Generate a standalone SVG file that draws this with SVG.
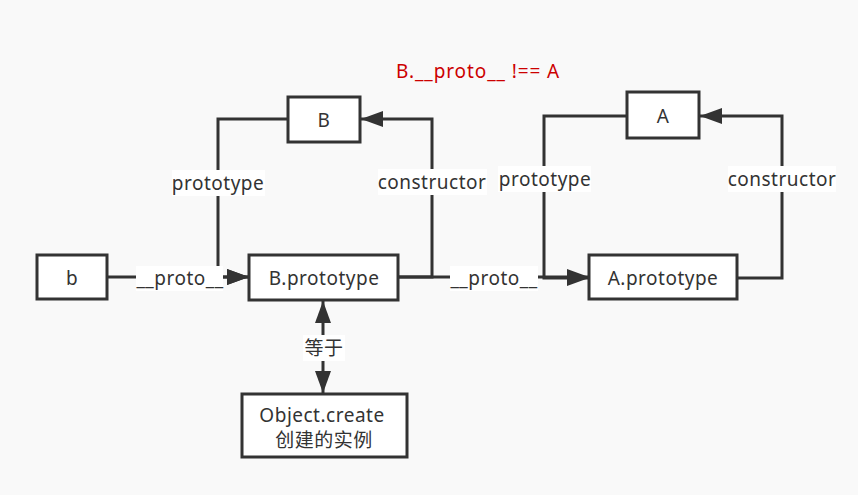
<svg xmlns="http://www.w3.org/2000/svg" width="858" height="495" viewBox="0 0 858 495">
<defs>
<marker id="arr" viewBox="0 0 22 16" refX="22" refY="8" markerWidth="22" markerHeight="16" markerUnits="userSpaceOnUse" orient="auto-start-reverse">
<path d="M0,0 L22,8 L0,16 Z" fill="#333"/>
</marker>
</defs>
<style>
.box{fill:#fff;stroke:#333;stroke-width:3}
.t{font-family:"Noto Sans","Noto Sans CJK SC",sans-serif;font-size:19px;letter-spacing:0.5px;fill:#333;text-anchor:middle;dominant-baseline:central}
.ln{fill:none;stroke:#333;stroke-width:3}
.lb{fill:#fff}
</style>
<rect width="858" height="495" fill="#f9f9f9"/>
<g id="connectors">
<path class="ln" d="M108,277 L249,277" marker-end="url(#arr)"/>
<path class="ln" d="M288,119 L218,119 L218,277 L249,277" marker-end="url(#arr)"/>
<path class="ln" d="M398,277 L432,277 L432,119 L361,119" marker-end="url(#arr)"/>
<path class="ln" d="M398,277 L589,277" marker-end="url(#arr)"/>
<path class="ln" d="M627,116 L544,116 L544,278 L589,278" marker-end="url(#arr)"/>
<path class="ln" d="M737,278 L782,278 L782,116 L700,116" marker-end="url(#arr)"/>
<path class="ln" d="M323,301 L323,393" marker-start="url(#arr)" marker-end="url(#arr)"/>
<rect class="lb" x="136" y="266" width="87" height="25"/>
<text class="t" x="180" y="278">__proto__</text>
<rect class="lb" x="172" y="170" width="93" height="26"/>
<text class="t" x="218" y="183">prototype</text>
<rect class="lb" x="378" y="169" width="109" height="26"/>
<text class="t" x="432" y="182">constructor</text>
<rect class="lb" x="450" y="266" width="88" height="25"/>
<text class="t" x="494" y="278">__proto__</text>
<rect class="lb" x="498" y="166" width="93" height="26"/>
<text class="t" x="545" y="179">prototype</text>
<rect class="lb" x="728" y="166" width="108" height="26"/>
<text class="t" x="782" y="179">constructor</text>
<rect class="lb" x="303" y="335" width="42" height="26"/>
<text class="t" x="324" y="348">等于</text>
</g>
<g id="b"><rect class="box" x="37" y="255" width="70" height="44"/><text class="t" x="72" y="278">b</text></g>
<g id="B"><rect class="box" x="288" y="97" width="72" height="45"/><text class="t" x="324" y="120">B</text></g>
<g id="Bprototype"><rect class="box" x="249" y="255" width="149" height="45"/><text class="t" x="324" y="278">B.prototype</text></g>
<g id="A"><rect class="box" x="627" y="92" width="72" height="46"/><text class="t" x="663" y="116">A</text></g>
<g id="Aprototype"><rect class="box" x="589" y="255" width="148" height="44"/><text class="t" x="663" y="278">A.prototype</text></g>
<g id="objcreate"><rect class="box" x="242" y="394" width="165" height="63"/><text class="t" x="322" y="415">Object.create</text><text class="t" x="324" y="440">创建的实例</text></g>
<g id="note"><text class="t" x="478" y="71" style="fill:#cc0000;letter-spacing:0.9px">B.__proto__ !== A</text></g>
</svg>
